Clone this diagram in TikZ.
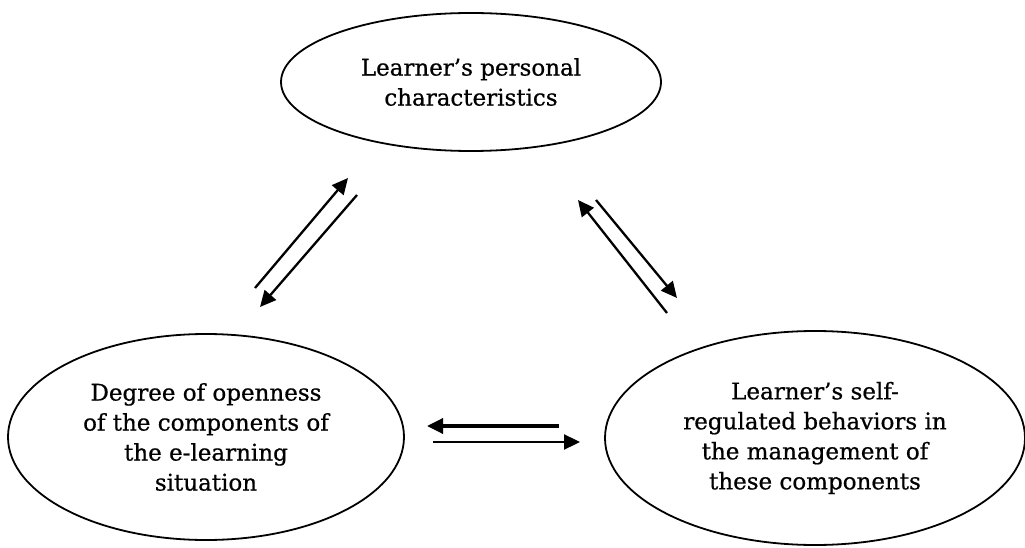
\documentclass[tikz,border=0pt]{standalone}
\usepackage{fontspec}
\setmainfont{DejaVu Serif}[FakeBold=0.7]
\usetikzlibrary{shapes.geometric,arrows.meta}
\begin{document}
\begin{tikzpicture}[x=1pt,y=-1pt,
  bubble/.style={draw,ellipse,line width=1.8pt,inner sep=0pt,align=center,
    font=\fontsize{23}{30}\selectfont},
  link/.style={line width=2.3pt,-{Triangle[length=16pt,width=15pt]}},
  thicklink/.style={line width=3.4pt,-{Triangle[length=16pt,width=15pt]}}]
\useasboundingbox (0,0) rectangle (1025,548);
\node[bubble,minimum width=380pt,minimum height=138pt] (top) at (471,82)
  {Learner’s personal\\characteristics};
\node[bubble,minimum width=396pt,minimum height=206pt] (left) at (206,437)
  {Degree of openness\\of the components of\\the e-learning\\situation};
\node[bubble,minimum width=420pt,minimum height=214pt] (right) at (815,438)
  {Learner’s self-\\regulated behaviors in\\the management of\\these components};
\coordinate (a1s) at (255,288); \coordinate (a1e) at (348,178);
\coordinate (a2s) at (357,195); \coordinate (a2e) at (260,307);
\coordinate (b1s) at (667,313); \coordinate (b1e) at (578,200);
\coordinate (b2s) at (596,200); \coordinate (b2e) at (677,298);
\coordinate (c1s) at (559,426); \coordinate (c1e) at (427,426);
\coordinate (c2s) at (433,442); \coordinate (c2e) at (580,442);
\draw[link] (a1s) -- (a1e);
\draw[link] (a2s) -- (a2e);
\draw[link] (b1s) -- (b1e);
\draw[link] (b2s) -- (b2e);
\draw[thicklink] (c1s) -- (c1e);
\draw[link] (c2s) -- (c2e);
\end{tikzpicture}
\end{document}
